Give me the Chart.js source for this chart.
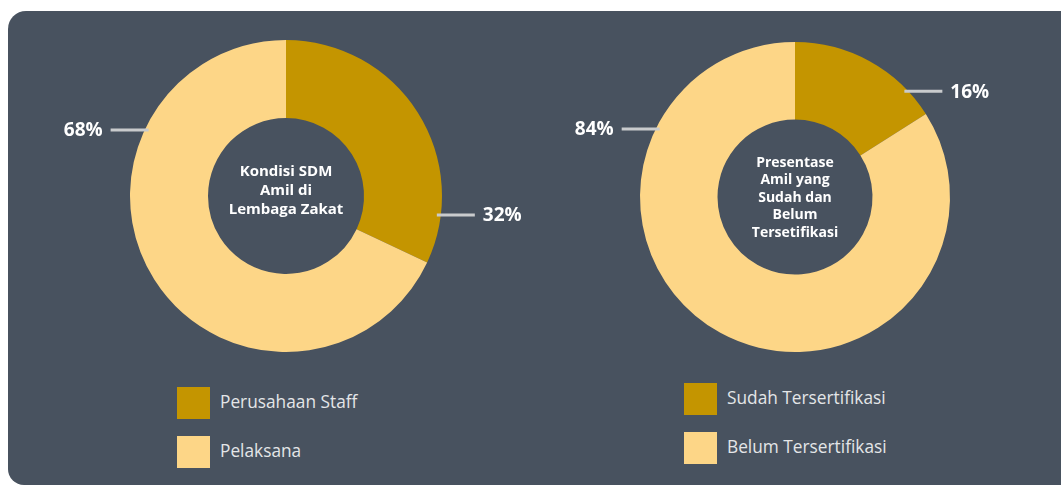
<!DOCTYPE html>
<html>
<head>
<meta charset="utf-8">
<script src="https://cdn.jsdelivr.net/npm/chart.js@4/dist/chart.umd.min.js"></script>
<style>
  body { margin: 0; background: #fff; width: 1061px; height: 486px; overflow: hidden; position: relative; font-family: 'Open Sans', 'Noto Sans', sans-serif; }
  #panel { position: absolute; left: 8px; top: 11px; width: 1060px; height: 474px; background: #48525f; border-radius: 18px 8px 8px 16px; }
  .wrap { position: absolute; top: 0; height: 380px; }
  .legend { position: absolute; color: #e4e6e8; font-size: 17.3px; }
  .legend div { position: relative; height: 49px; }
  .legend span.box { position: absolute; left: 0; top: 0; width: 33px; height: 32px; }
  .legend span.txt { position: absolute; left: 43px; top: 3px; white-space: nowrap; font-variant-ligatures: none; }
</style>
</head>
<body>
<div id="panel"></div>
<div class="wrap" style="left:0;width:530px"><canvas id="chartLeft"></canvas></div>
<div class="wrap" style="left:540px;width:521px"><canvas id="chartRight"></canvas></div>
<div class="legend" id="legendLeft" style="left:177px;top:387px"></div>
<div class="legend" id="legendRight" style="left:684px;top:383px"></div>
<script>
const leftLabels = ['Perusahaan Staff', 'Pelaksana'];
const leftValues = [32, 68];
const leftTitle = ['Kondisi SDM', 'Amil di', 'Lembaga Zakat'];

const rightLabels = ['Sudah Tersertifikasi', 'Belum Tersertifikasi'];
const rightValues = [16, 84];
const rightTitle = ['Presentase', 'Amil yang', 'Sudah dan', 'Belum', 'Tersetifikasi'];

const sliceColors = ['#c49500', '#fdd687'];

// where each callout leaves the ring (degrees clockwise from top) and which side the text goes
const leftCallouts = [{ angle: 97, side: 1 }, { angle: 295, side: -1 }];
const rightCallouts = [{ angle: 47, side: 1 }, { angle: 296, side: -1 }];

const decorPlugin = {
  id: 'decor',
  afterDraw(chart, args, opts) {
    const ctx = chart.ctx;
    const arc = chart.getDatasetMeta(0).data[0];
    const cx = arc.x, cy = arc.y, r = arc.outerRadius;
    const values = chart.data.datasets[0].data;

    // center title
    ctx.save();
    ctx.fillStyle = '#ffffff';
    ctx.font = 'bold ' + opts.titleSize + 'px "Open Sans", "Noto Sans", sans-serif';
    ctx.textAlign = 'center';
    ctx.textBaseline = 'middle';
    const lh = opts.lineHeight;
    const top = cy - (opts.title.length - 1) * lh / 2 + opts.titleShift;
    opts.title.forEach((t, i) => ctx.fillText(t, cx, top + i * lh));

    // callouts
    opts.callouts.forEach((c, i) => {
      const a = c.angle * Math.PI / 180;
      const x0 = cx + r * Math.sin(a) - c.side * 4;
      const y0 = cy - r * Math.cos(a);
      const x1 = x0 + c.side * 38;
      ctx.strokeStyle = '#c9cbcd';
      ctx.lineWidth = 3;
      ctx.beginPath();
      ctx.moveTo(x0, y0);
      ctx.lineTo(x1, y0);
      ctx.stroke();
      ctx.fillStyle = '#ffffff';
      ctx.font = 'bold 19px "Open Sans", "Noto Sans", sans-serif';
      ctx.textAlign = c.side > 0 ? 'left' : 'right';
      ctx.fillText(values[i] + '%', x1 + c.side * 8, y0 + 1);
    });
    ctx.restore();
  }
};

function makeChart(id, labels, values, title, callouts, padding, lineHeight, titleShift, titleSize) {
  return new Chart(document.getElementById(id), {
    type: 'doughnut',
    data: {
      labels: labels,
      datasets: [{
        data: values,
        backgroundColor: sliceColors,
        borderWidth: 0,
      }],
    },
    options: {
      responsive: true,
      maintainAspectRatio: false,
      animation: false,
      cutout: '50%',
      layout: { padding: padding },
      plugins: {
        legend: { display: false },
        tooltip: { enabled: false },
        decor: { title: title, callouts: callouts, lineHeight: lineHeight, titleShift: titleShift, titleSize: titleSize },
      },
    },
    plugins: [decorPlugin],
  });
}

function makeLegend(id, labels) {
  const el = document.getElementById(id);
  labels.forEach((l, i) => {
    const row = document.createElement('div');
    row.innerHTML = '<span class="box" style="background:' + sliceColors[i] + '"></span><span class="txt">' + l + '</span>';
    el.appendChild(row);
  });
}

makeChart('chartLeft', leftLabels, leftValues, leftTitle, leftCallouts,
  { left: 130, right: 88, top: 40, bottom: 28 }, 19, -5, 15);
makeChart('chartRight', rightLabels, rightValues, rightTitle, rightCallouts,
  { left: 100, right: 111, top: 42, bottom: 28 }, 17.5, 1, 14);
makeLegend('legendLeft', leftLabels);
makeLegend('legendRight', rightLabels);
</script>
</body>
</html>
